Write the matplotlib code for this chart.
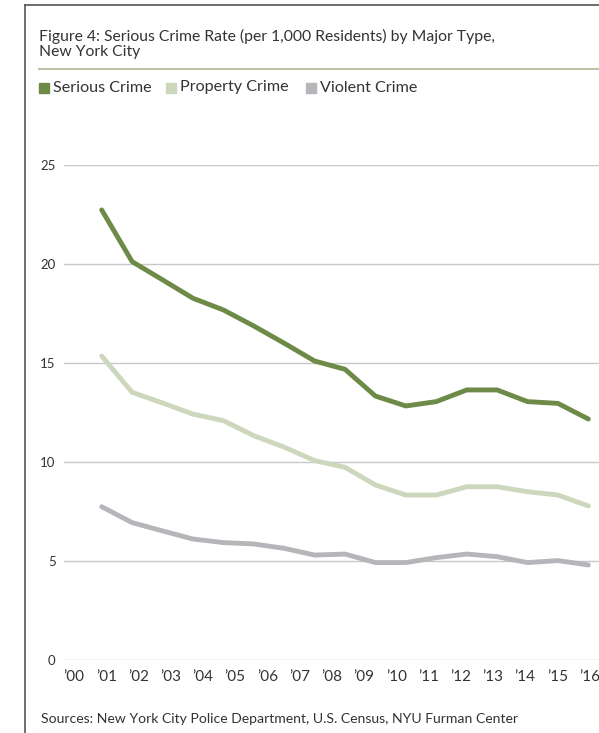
import matplotlib
matplotlib.use("Agg")
import matplotlib.pyplot as plt
import numpy as np

plt.rcParams['font.family'] = ['Lato', 'DejaVu Sans']

# Data (17 points, drawn as in the reference)
serious = [22.73, 20.12, 19.2, 18.27, 17.68, 16.87, 16.0, 15.1, 14.68, 13.33,
           12.83, 13.05, 13.64, 13.64, 13.05, 12.96, 12.17]
property_ = [15.35, 13.52, 12.98, 12.42, 12.09, 11.33, 10.75, 10.07, 9.73, 8.84,
             8.33, 8.33, 8.75, 8.75, 8.5, 8.33, 7.78]
violent = [7.74, 6.94, 6.52, 6.11, 5.93, 5.86, 5.64, 5.30, 5.35, 4.92,
           4.92, 5.17, 5.35, 5.22, 4.92, 5.02, 4.80]
x_labels = ["\u201900", "\u201901", "\u201902", "\u201903", "\u201904", "\u201905",
            "\u201906", "\u201907", "\u201908", "\u201909", "\u201910", "\u201911",
            "\u201912", "\u201913", "\u201914", "\u201915", "\u201916"]
y_ticks = [0, 5, 10, 15, 20, 25]
series_names = ["Serious Crime", "Property Crime", "Violent Crime"]
colors = ["#6e8a47", "#cdd7bd", "#b5b5ba"]

W, H = 599, 733
fig = plt.figure(figsize=(W / 100, H / 100), dpi=100)

# frame lines (left + top)
fig.add_artist(plt.Line2D([25 / W, 25 / W], [0, 1 - 5 / H], color="#555555", lw=1.2))
fig.add_artist(plt.Line2D([25 / W, 1], [1 - 5 / H, 1 - 5 / H], color="#555555", lw=1.2))

# title
fig.text(39 / W, 1 - 29 / H, "Figure 4: Serious Crime Rate (per 1,000 Residents) by Major Type,\nNew York City",
         fontsize=11.3, color="#333333", va="top", ha="left", linespacing=1.1)
fig.add_artist(plt.Line2D([39 / W, 1], [1 - 68.5 / H, 1 - 68.5 / H], color="#b9c3a6", lw=1.5))

# legend
leg_x = [39, 166, 306]
for lx, name, c in zip(leg_x, series_names, colors):
    fig.patches.append(plt.Rectangle((lx / W, 1 - 93 / H), 10 / W, 10 / H,
                                     transform=fig.transFigure, color=c, figure=fig))
    fig.text((lx + 14) / W, 1 - 87.5 / H, name, fontsize=11.6, color="#333333",
             va="center", ha="left")

ax = fig.add_axes([64 / W, (H - 660) / H, (W - 64) / W, 495 / H])
x = np.arange(len(serious))
for vals, c in zip([serious, property_, violent], colors):
    ax.plot(x, vals, color=c, lw=3.5, solid_capstyle="round", solid_joinstyle="round", zorder=3)

ax.set_ylim(0, 25)
ax.set_xlim(-1.24, 16.35)
ax.set_yticks(y_ticks)
ax.set_yticklabels([str(v) for v in y_ticks])
tick_pos = np.linspace(-0.91, 16.04, len(x_labels))
ax.set_xticks(tick_pos)
ax.set_xticklabels(x_labels)
ax.tick_params(axis="y", length=0, pad=6, labelsize=9.5, labelcolor="#333333")
ax.tick_params(axis="x", length=0, pad=7, labelsize=11, labelcolor="#333333")
ax.grid(axis="y", color="#c8c8c8", lw=1)
ax.set_axisbelow(True)
for s in ax.spines.values():
    s.set_visible(False)

fig.text(41 / W, 1 - 719 / H, "Sources: New York City Police Department, U.S. Census, NYU Furman Center",
         fontsize=10.1, color="#333333", va="center", ha="left")

fig.savefig("out.png", dpi=100)
